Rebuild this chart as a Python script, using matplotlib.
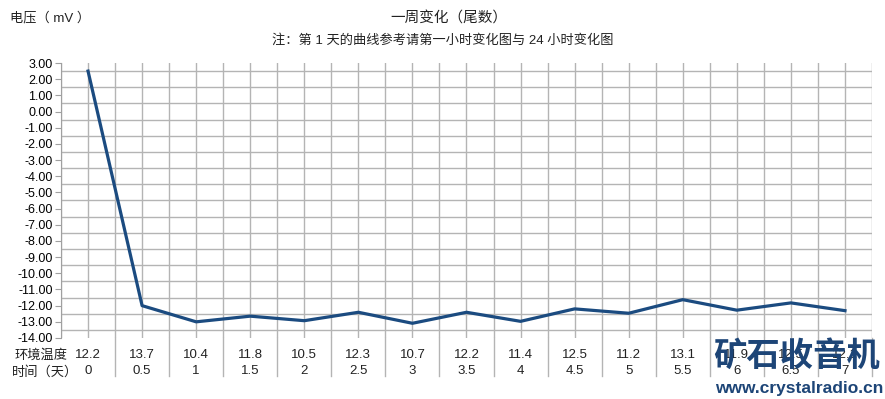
#coding:utf-8
# 一周变化（尾数）折线图
import numpy as np
import matplotlib
matplotlib.use("Agg")
import matplotlib.pyplot as plt
import matplotlib.transforms as mtransforms

plt.rcParams['font.family'] = ['Liberation Sans', 'Noto Sans CJK SC', 'DejaVu Sans']

# データ
days = ["0", "0.5", "1", "1.5", "2", "2.5", "3", "3.5", "4", "4.5", "5", "5.5", "6", "6.5", "7"]
temps = ["12.2", "13.7", "10.4", "11.8", "10.5", "12.3", "10.7", "12.2", "11.4", "12.5", "11.2", "13.1", "11.9", "12.5", "12.1"]
voltage = [2.5, -12.0, -13.0, -12.65, -12.93, -12.41, -13.09, -12.41, -12.97, -12.2, -12.47, -11.63, -12.28, -11.83, -12.31]

W, H = 885, 399
fig = plt.figure(figsize=(W / 100, H / 100), dpi=100)
ax = fig.add_axes([61 / W, 1 - 338 / H, (872 - 61) / W, (338 - 63) / H])

x = np.arange(len(days))
ax.plot(x, voltage, color="#1b4b80", lw=2.3, zorder=3, solid_joinstyle="round")

# 軸
ax.set_xlim(-0.5, len(days) - 0.5)
ax.set_ylim(-14, 3)
ax.set_yticks(np.arange(-14, 3.5, 1))
ax.set_yticklabels(["%.2f" % v for v in np.arange(-14, 3.5, 1)], fontsize=9)
ax.set_yticks(np.arange(-14, 3.5, 0.5), minor=True)
ax.set_xticks(np.arange(-0.5, len(days), 0.5), minor=True)
ax.set_xticks([])
ax.tick_params(axis="y", which="major", length=4, color="#a0a0a0", pad=2)
ax.tick_params(axis="y", which="minor", length=0)
ax.tick_params(axis="x", which="minor", length=0)
ax.grid(which="minor", color="#b4b4b4", lw=1)
for s in ["top", "right", "bottom"]:
    ax.spines[s].set_visible(False)
ax.spines["left"].set_color("#a0a0a0")

# 表（環境温度・時間）
tr = mtransforms.blended_transform_factory(ax.transData, fig.transFigure)
for i in range(len(days)):
    ax.text(x[i], 1 - 355 / H, temps[i], transform=tr, ha="center", va="center", fontsize=9.5, color="#222222")
    ax.text(x[i], 1 - 371 / H, days[i], transform=tr, ha="center", va="center", fontsize=9.5, color="#222222")
for k in range(1, len(days) + 1):
    ax.plot([k - 0.5, k - 0.5], [1 - 338 / H, 1 - 376 / H], transform=tr, color="#b4b4b4", lw=1, clip_on=False)
fig.text(15 / W, 1 - 355 / H, "环境温度", ha="left", va="center", fontsize=9.5, color="#222222")
fig.text(12 / W, 1 - 372 / H, "时间（天）", ha="left", va="center", fontsize=9.5, color="#222222")

# タイトル
fig.text(449 / W, 1 - 19 / H, "一周变化（尾数）", ha="center", va="center", fontsize=10.5, color="#222222")
fig.text(443 / W, 1 - 40 / H, "注：第 1 天的曲线参考请第一小时变化图与 24 小时变化图", ha="center", va="center", fontsize=9.5, color="#222222")
fig.text(10 / W, 1 - 18 / H, "电压（ mV ）", ha="left", va="center", fontsize=9.5, color="#222222")

# 透かし
fig.text(797 / W, 1 - 356 / H, "矿石收音机", ha="center", va="center", fontsize=24, fontweight="bold",
         color="#1d4577", family=["Noto Sans CJK SC"], zorder=10)
fig.text(799 / W, 1 - 388 / H, "www.crystalradio.cn", ha="center", va="center", fontsize=12.5, fontweight="bold",
         color="#1d4577", zorder=10)

fig.savefig("out.png", dpi=100)
